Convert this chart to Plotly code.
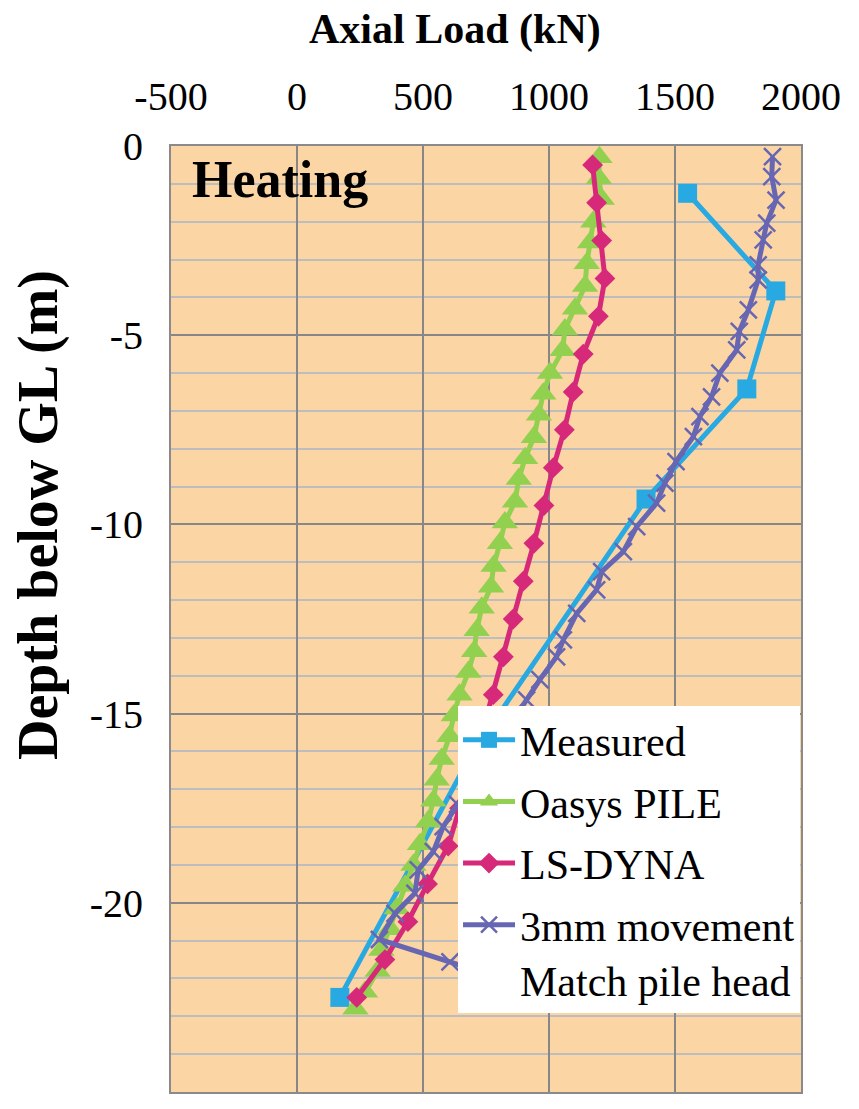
import plotly.graph_objects as go

# ---------------- data ----------------
measured_depth = [-1.25, -3.83, -6.42, -9.33, -16.1, -22.5]
measured_load = [1550, 1900, 1785, 1385, 690, 170]

oasys_depth = [-0.3, -0.85, -1.4, -2.0, -2.55, -3.1, -3.7, -4.3, -4.85, -5.4,
               -6.0, -6.55, -7.1, -7.7, -8.25, -8.8, -9.4, -9.95, -10.5, -11.1,
               -11.65, -12.2, -12.8, -13.35, -13.9, -14.5, -15.05, -15.6, -16.2, -16.75,
               -17.3, -17.85, -18.45, -19.0, -19.55, -20.15, -20.7, -21.25, -21.8, -22.35,
               -22.8]
oasys_load = [1200, 1198, 1209, 1176, 1163, 1150, 1143, 1103, 1063, 1054,
              1004, 977, 960, 940, 905, 880, 865, 825, 805, 780,
              770, 733, 713, 703, 680, 645, 622, 605, 574, 554,
              541, 520, 488, 462, 430, 396, 370, 335, 320, 270,
              232]

lsdyna_depth = [-0.5, -1.5, -2.5, -3.5, -4.5, -5.5, -6.5, -7.5, -8.5, -9.5,
                -10.5, -11.5, -12.5, -13.5, -14.5, -15.5, -16.5, -17.5, -18.5, -19.5,
                -20.5, -21.5, -22.5]
lsdyna_load = [1173, 1189, 1209, 1222, 1196, 1136, 1096, 1061, 1017, 980,
               940, 898, 858, 819, 779, 735, 690, 645, 600, 518,
               440, 349, 237]

move_depth = [-0.28, -0.81, -1.43, -2.04, -2.48, -3.14, -3.54, -4.33, -4.9, -5.39,
              -6.0, -6.63, -7.15, -7.68, -8.34, -8.91, -9.44, -10.06, -10.72, -11.25,
              -11.73, -12.35, -13.05, -13.5, -14.1, -14.64, -15.2, -15.75, -16.3, -16.85,
              -17.4, -17.99, -18.65, -19.13, -19.75, -20.28, -20.97, -21.56, -22.4]
move_load = [1887, 1884, 1901, 1864, 1850, 1830, 1830, 1791, 1755, 1745,
             1678, 1645, 1599, 1573, 1504, 1460, 1427, 1348, 1295, 1209,
             1189, 1110, 1057, 1030, 964, 911, 856, 800, 746, 692,
             637, 580, 541, 481, 468, 389, 327, 607, 1000]

x_ticks = [-500, 0, 500, 1000, 1500, 2000]
y_ticks = [0, -5, -10, -15, -20, -25]

# ---------------- style ----------------
BLUE = "#29A9E1"
GREEN = "#92D050"
MAGENTA = "#D6297A"
PURPLE = "#6666B3"
BG = "#FCD5A5"
SERIF = "Liberation Serif"

fig = go.Figure()
fig.add_trace(go.Scatter(x=measured_load, y=measured_depth, mode="lines+markers",
                         name="Measured", legendgroup="a",
                         line=dict(color=BLUE, width=5),
                         marker=dict(symbol="square", size=19, color=BLUE)))
fig.add_trace(go.Scatter(x=oasys_load, y=oasys_depth, mode="lines+markers",
                         name="Oasys PILE", legendgroup="b",
                         line=dict(color=GREEN, width=5),
                         marker=dict(symbol="triangle-up", size=23, color=GREEN)))
fig.add_trace(go.Scatter(x=lsdyna_load, y=lsdyna_depth, mode="lines+markers",
                         name="LS-DYNA", legendgroup="c",
                         line=dict(color=MAGENTA, width=5),
                         marker=dict(symbol="diamond", size=16, color=MAGENTA)))
fig.add_trace(go.Scatter(x=move_load, y=move_depth, mode="lines+markers",
                         name="3mm movement<br>Match pile head", legendgroup="d",
                         line=dict(color=PURPLE, width=5),
                         marker=dict(symbol="x-thin", size=17, color=PURPLE,
                                     line=dict(color=PURPLE, width=2.5))))

fig.update_layout(
    width=859, height=1109,
    margin=dict(l=171, r=58, t=146, b=17),
    paper_bgcolor="white",
    plot_bgcolor=BG,
    font=dict(family=SERIF, size=40, color="black"),
    showlegend=True,
    legend=dict(x=0.4556, y=0.408, xanchor="left", yanchor="top",
                bgcolor="white", borderwidth=0,
                font=dict(family=SERIF, size=42, color="black"),
                valign="top", tracegroupgap=4, traceorder="grouped",
                itemwidth=52),
    xaxis=dict(side="top", range=[-500, 2000], tickvals=x_ticks,
               ticktext=[str(v) for v in x_ticks],
               showgrid=True, gridcolor="#878787", gridwidth=2,
               zeroline=False, showline=True, linecolor="#8A8A8A", linewidth=2,
               mirror=True, ticks="", ticklabelstandoff=18,
               tickfont=dict(family=SERIF, size=40, color="black")),
    yaxis=dict(range=[-25, 0], tickvals=y_ticks,
               ticktext=[str(v) for v in y_ticks],
               showgrid=True, gridcolor="#878787", gridwidth=2,
               minor=dict(dtick=1, showgrid=True, gridcolor="#BDBDBD", gridwidth=2),
               zeroline=False, showline=True, linecolor="#8A8A8A", linewidth=2,
               mirror=True, ticks="", ticklabelstandoff=18,
               tickfont=dict(family=SERIF, size=40, color="black")),
    annotations=[
        dict(text="<b>Axial Load (kN)</b>", xref="paper", yref="paper",
             x=(455 - 171) / 630, y=(1092 - 30) / 946, xanchor="center", yanchor="middle",
             showarrow=False, font=dict(family=SERIF, size=42)),
        dict(text="<b>Depth below GL (m)</b>", xref="paper", yref="paper",
             x=(38 - 171) / 630, y=(1092 - 515) / 946, xanchor="center", yanchor="middle",
             textangle=-90, showarrow=False, font=dict(family=SERIF, size=56)),
        dict(text="<b>Heating</b>", xref="paper", yref="paper",
             x=(190 - 171) / 630, y=(1092 - 180) / 946, xanchor="left", yanchor="middle",
             showarrow=False, font=dict(family=SERIF, size=52)),
    ],
)

fig.write_html("out.html")
